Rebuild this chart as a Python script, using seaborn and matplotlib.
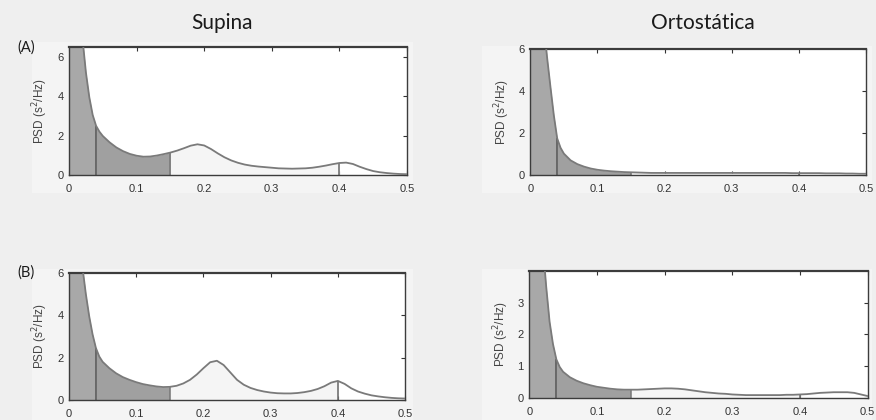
import numpy as np
import pandas as pd
import matplotlib
matplotlib.use("Agg")
import matplotlib.pyplot as plt
from matplotlib.patches import Rectangle
import seaborn as sns

# ---------------- data ----------------
freq = [0.0, 0.005, 0.01, 0.015, 0.02, 0.025, 0.03, 0.035, 0.04, 0.045,
        0.05, 0.06, 0.07, 0.08, 0.09, 0.10, 0.11, 0.12, 0.13, 0.14, 0.15,
        0.16, 0.17, 0.18, 0.19, 0.20, 0.21, 0.22, 0.23, 0.24, 0.25,
        0.26, 0.27, 0.28, 0.29, 0.30, 0.31, 0.32, 0.33, 0.34, 0.35,
        0.36, 0.37, 0.38, 0.39, 0.40, 0.41, 0.42, 0.43, 0.44, 0.45,
        0.46, 0.47, 0.48, 0.49, 0.50]

psd_a_supina = [19.0, 15.0, 11.5, 8.9, 6.9, 5.2, 3.95, 3.05, 2.5, 2.2,
                1.98, 1.66, 1.4, 1.21, 1.07, 0.98, 0.93, 0.94, 0.99, 1.06, 1.14,
                1.24, 1.36, 1.49, 1.56, 1.5, 1.32, 1.1, 0.9, 0.74, 0.62,
                0.53, 0.47, 0.43, 0.4, 0.37, 0.34, 0.33, 0.32, 0.33, 0.34,
                0.37, 0.42, 0.48, 0.55, 0.61, 0.63, 0.56, 0.42, 0.3, 0.2,
                0.14, 0.1, 0.07, 0.05, 0.04]

psd_a_orto = [16.0, 13.0, 10.8, 8.9, 7.2, 5.6, 4.2, 2.85, 1.75, 1.3,
              1.02, 0.7, 0.52, 0.4, 0.31, 0.25, 0.21, 0.18, 0.16, 0.14, 0.13,
              0.12, 0.11, 0.1, 0.1, 0.1, 0.1, 0.1, 0.1, 0.1, 0.1,
              0.1, 0.1, 0.1, 0.1, 0.1, 0.1, 0.1, 0.1, 0.1, 0.1,
              0.1, 0.1, 0.1, 0.09, 0.09, 0.09, 0.09, 0.09, 0.08, 0.08,
              0.08, 0.07, 0.07, 0.06, 0.06]

psd_b_supina = [17.0, 13.5, 10.5, 8.1, 6.25, 5.0, 3.95, 3.1, 2.45, 2.05,
                1.8, 1.5, 1.26, 1.08, 0.95, 0.84, 0.75, 0.69, 0.64, 0.61, 0.62,
                0.67, 0.78, 0.95, 1.2, 1.5, 1.78, 1.85, 1.65, 1.3, 0.95,
                0.72, 0.57, 0.47, 0.4, 0.35, 0.32, 0.31, 0.31, 0.33, 0.37,
                0.43, 0.52, 0.65, 0.82, 0.9, 0.76, 0.55, 0.4, 0.3, 0.22,
                0.17, 0.13, 0.1, 0.08, 0.07]

psd_b_orto = [11.0, 8.6, 6.8, 6.1, 4.8, 3.5, 2.4, 1.7, 1.22, 0.98,
              0.83, 0.66, 0.55, 0.47, 0.41, 0.36, 0.33, 0.3, 0.28, 0.27, 0.27,
              0.27, 0.28, 0.29, 0.3, 0.31, 0.31, 0.3, 0.28, 0.25, 0.22,
              0.19, 0.17, 0.15, 0.14, 0.12, 0.11, 0.1, 0.1, 0.1, 0.1,
              0.1, 0.1, 0.11, 0.11, 0.12, 0.13, 0.15, 0.17, 0.18, 0.19,
              0.19, 0.19, 0.17, 0.12, 0.07]

band_edges = [0.0, 0.04, 0.15, 0.4, 0.5]
col_titles = ["Supina", "Ortostática"]
row_labels = ["(A)", "(B)"]
x_ticks = [0, 0.1, 0.2, 0.3, 0.4, 0.5]
x_ticklabels = ["0", "0.1", "0.2", "0.3", "0.4", "0.5"]
y_ticks_6 = [0, 2, 4, 6]
y_ticks_4 = [0, 1, 2, 3]
ylims = [[6.5, 6.0], [6.0, 4.0]]

# ---------------- style ----------------
sns.set_theme(style="white")
plt.rcParams["font.family"] = ["Liberation Sans", "DejaVu Sans"]
fig_bg = "#efefef"
panel_bg = "#f4f4f4"
vlf_col = "#a8a8a8"
lf_col = "#a0a0a0"
hf_col = "#f5f5f5"
line_col = "#7a7a7a"
edge_col = "#3c3c3c"

fig = plt.figure(figsize=(8.76, 4.2), dpi=100, facecolor=fig_bg)

positions = [
    [[0.0788, 0.5833, 0.3858, 0.3048], [0.6054, 0.5833, 0.3832, 0.2993]],
    [[0.0788, 0.0476, 0.3836, 0.3031], [0.6042, 0.0517, 0.3863, 0.3038]],
]
bg_boxes = [
    [[0.037, 0.54, 0.435, 0.36], [0.55, 0.54, 0.445, 0.35]],
    [[0.037, 0.0, 0.435, 0.36], [0.55, 0.0, 0.445, 0.36]],
]

data = [[psd_a_supina, psd_a_orto], [psd_b_supina, psd_b_orto]]

for r in range(2):
    for c in range(2):
        bx = bg_boxes[r][c]
        fig.patches.append(Rectangle((bx[0], bx[1]), bx[2], bx[3],
                                     transform=fig.transFigure,
                                     facecolor=panel_bg, edgecolor="none",
                                     zorder=-10))
        ax = fig.add_axes(positions[r][c])
        ax.set_zorder(5)
        ax.set_facecolor("white")
        f = np.array(freq)
        p = np.array(data[r][c])
        df = pd.DataFrame({"f": f, "psd": p})
        # bands
        m_vlf = (f >= band_edges[0]) & (f <= band_edges[1])
        m_lf = (f >= band_edges[1]) & (f <= band_edges[2])
        m_hf = (f >= band_edges[2]) & (f <= band_edges[3])
        ax.fill_between(f, 0, p, where=m_vlf, color=vlf_col, lw=0, zorder=1)
        ax.fill_between(f, 0, p, where=m_lf, color=lf_col, lw=0, zorder=1)
        ax.fill_between(f, 0, p, where=m_hf, color=hf_col, lw=0, zorder=1)
        # band boundaries
        for e, lc in zip(band_edges[1:4], ["#555555", "#777777", "#666666"]):
            idx = int(np.argmin(np.abs(f - e)))
            ax.vlines(e, 0, p[idx], color=lc, lw=1.1, zorder=2)
        sns.lineplot(data=df, x="f", y="psd", ax=ax, color=line_col,
                     lw=1.3, zorder=3, legend=False)
        ax.set_xlim(0, 0.5)
        ax.set_ylim(0, ylims[r][c])
        ax.set_xticks(x_ticks)
        ax.set_xticklabels(x_ticklabels)
        ax.set_yticks(y_ticks_4 if (r == 1 and c == 1) else y_ticks_6)
        ax.tick_params(direction="in", length=3, width=0.8, colors="#333333",
                       labelsize=8, top=True, right=True, bottom=True,
                       left=True, labelcolor="#333333")
        ax.tick_params(axis="x", pad=6.5)
        ax.tick_params(axis="y", pad=4)
        ax.set_xlabel("")
        ax.set_ylabel("PSD (s$^2$/Hz)", fontsize=8.5, color="#444444",
                      labelpad=5)
        for s in ax.spines.values():
            s.set_color(edge_col)
            s.set_linewidth(1.0)
            s.set_visible(True)
        ax.spines["top"].set_linewidth(1.6)

# titles and row labels
fig.text(221.7 / 876, 1 - 23 / 420, col_titles[0], ha="center", va="center",
         fontsize=15, family=["Lato", "DejaVu Sans"], color="#1a1a1a")
fig.text(702.7 / 876, 1 - 23 / 420, col_titles[1], ha="center", va="center",
         fontsize=15, family=["Lato", "DejaVu Sans"], color="#1a1a1a")
fig.text(26 / 876, 1 - 48 / 420, row_labels[0], ha="center", va="center",
         fontsize=10.5, family=["Lato", "DejaVu Sans"], color="#1a1a1a")
fig.text(26 / 876, 1 - 273 / 420, row_labels[1], ha="center", va="center",
         fontsize=10.5, family=["Lato", "DejaVu Sans"], color="#1a1a1a")

fig.savefig("out.png", dpi=100, facecolor=fig_bg)
